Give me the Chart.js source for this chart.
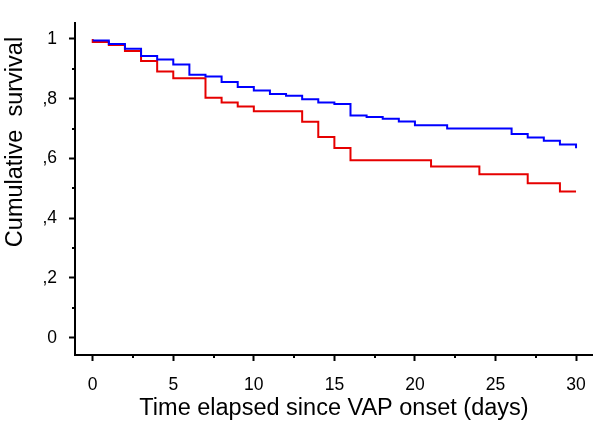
<!DOCTYPE html>
<html>
<head>
<meta charset="utf-8">
<script src="https://cdn.jsdelivr.net/npm/chart.js@4.4.1/dist/chart.umd.min.js"></script>
<style>
  html, body { margin: 0; padding: 0; background: #fff; }
  #wrap { width: 600px; height: 427px; }
</style>
</head>
<body>
<div id="wrap"><canvas id="kmChart"></canvas></div>
<script>
// Kaplan-Meier steps (day, survival after the step)
const blueDays = [0, 1, 2, 3, 4, 5, 6, 7, 8, 9, 10, 11, 12, 13, 14, 15, 16, 17, 18, 19, 20, 22, 26, 27, 28, 29, 30];
const blueSurvival = [0.995, 0.983, 0.967, 0.943, 0.931, 0.914, 0.880, 0.874, 0.856, 0.839, 0.827, 0.816, 0.810, 0.798, 0.787, 0.782, 0.744, 0.739, 0.733, 0.724, 0.711, 0.700, 0.682, 0.670, 0.659, 0.647, 0.634];

const redDays = [0, 0, 1, 2, 3, 4, 5, 7, 8, 9, 10, 13, 14, 15, 16, 21, 24, 27, 29, 30];
const redSurvival = [1.0, 0.99, 0.98, 0.96, 0.926, 0.891, 0.868, 0.803, 0.787, 0.774, 0.758, 0.723, 0.672, 0.635, 0.594, 0.573, 0.547, 0.517, 0.489, 0.489];

const xTicks = [0, 5, 10, 15, 20, 25, 30];
const xMinorTicks = [2.5, 7.5, 12.5, 17.5, 22.5, 27.5];
const yTicks = [0, 0.2, 0.4, 0.6, 0.8, 1];
const yTickLabels = ['0', ',2', ',4', ',6', ',8', '1'];
const yMinorTicks = [0.1, 0.3, 0.5, 0.7, 0.9];

const xTitle = 'Time elapsed since VAP onset (days)';
const yTitle = 'Cumulative  survival';

const FONT = "'Liberation Sans', Arial, sans-serif";

const toPoints = (xs, ys) => xs.map((x, i) => ({ x: x, y: ys[i] }));

// small unlabeled ticks + rotated y title
const extras = {
  id: 'extras',
  afterDraw(chart) {
    const ctx = chart.ctx;
    const xs = chart.scales.x;
    const ys = chart.scales.y;
    ctx.save();
    ctx.strokeStyle = '#000';
    ctx.lineWidth = 2;
    ctx.beginPath();
    xMinorTicks.forEach(v => {
      const px = Math.round(xs.getPixelForValue(v));
      ctx.moveTo(px, xs.top);
      ctx.lineTo(px, xs.top + 3);
    });
    yMinorTicks.forEach(v => {
      const py = Math.round(ys.getPixelForValue(v));
      ctx.moveTo(ys.right, py);
      ctx.lineTo(ys.right - 3, py);
    });
    ctx.stroke();

    ctx.translate(16, 142);
    ctx.rotate(-Math.PI / 2);
    ctx.fillStyle = '#000';
    ctx.font = '23.5px ' + FONT;
    ctx.textAlign = 'center';
    ctx.textBaseline = 'middle';
    ctx.fillText(yTitle, 0, 0);
    ctx.restore();
  }
};

const ctx = document.getElementById('kmChart').getContext('2d');
new Chart(ctx, {
  type: 'line',
  data: {
    datasets: [
      {
        label: 'blue',
        data: toPoints(blueDays, blueSurvival),
        borderColor: '#0000ff',
        borderWidth: 2,
        stepped: true,
        pointRadius: 0,
        fill: false
      },
      {
        label: 'red',
        data: toPoints(redDays, redSurvival),
        borderColor: '#e60000',
        borderWidth: 2,
        stepped: true,
        pointRadius: 0,
        fill: false
      }
    ]
  },
  options: {
    responsive: true,
    maintainAspectRatio: false,
    animation: false,
    layout: { padding: { top: 10, right: 7, left: 0, bottom: 0 } },
    plugins: {
      legend: { display: false },
      tooltip: { enabled: false }
    },
    scales: {
      x: {
        type: 'linear',
        min: -1.1,
        max: 31.05,
        afterBuildTicks: s => { s.ticks = xTicks.map(v => ({ value: v })); },
        afterFit: s => { s.height = 72; },
        ticks: {
          color: '#000',
          font: { family: FONT, size: 17.5 },
          padding: 14,
          maxRotation: 0
        },
        grid: {
          display: true,
          drawOnChartArea: false,
          drawTicks: true,
          tickLength: 6,
          tickColor: '#000',
          tickWidth: 2
        },
        border: { display: true, color: '#000', width: 2 },
        title: {
          display: true,
          text: xTitle,
          color: '#000',
          font: { family: FONT, size: 23.5 },
          padding: { top: 0, bottom: 4 }
        }
      },
      y: {
        type: 'linear',
        min: -0.058,
        max: 1.055,
        afterBuildTicks: s => { s.ticks = yTicks.map(v => ({ value: v })); },
        afterFit: s => { s.width = 75; },
        ticks: {
          color: '#000',
          font: { family: FONT, size: 17.5 },
          padding: 12,
          callback: (v, i) => yTickLabels[i]
        },
        grid: {
          display: true,
          drawOnChartArea: false,
          drawTicks: true,
          tickLength: 6,
          tickColor: '#000',
          tickWidth: 2
        },
        border: { display: true, color: '#000', width: 2 }
      }
    }
  },
  plugins: [extras]
});
</script>
</body>
</html>
